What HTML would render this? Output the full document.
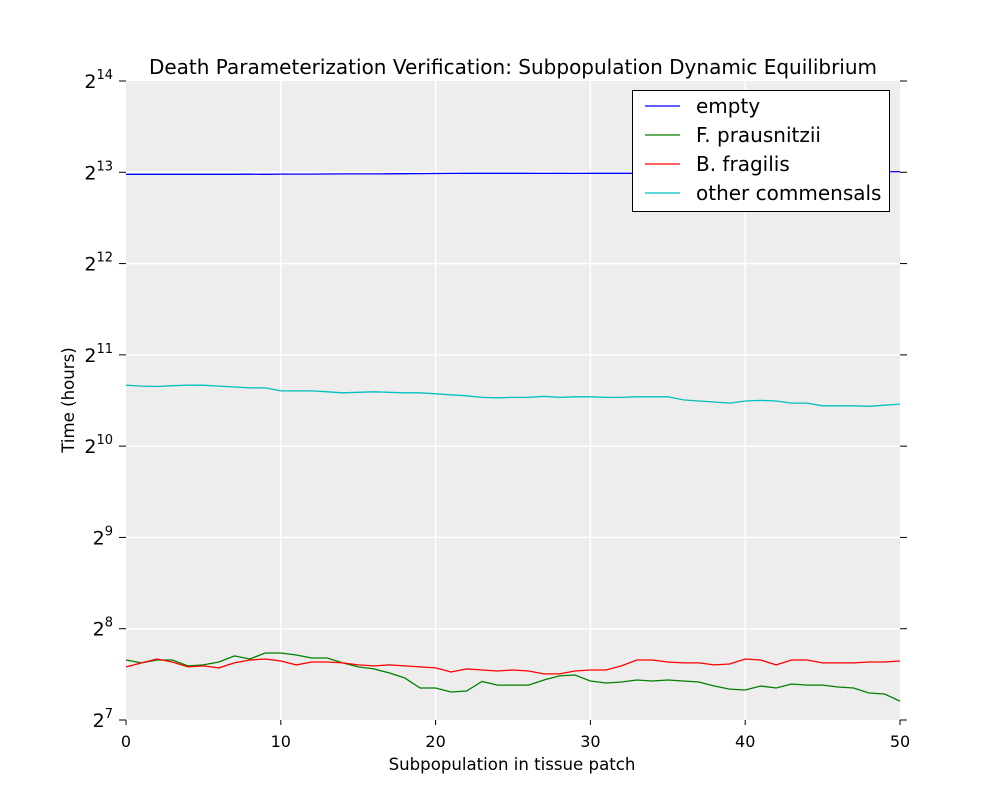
<!DOCTYPE html>
<html><head><meta charset="utf-8"><style>
body{margin:0;background:#fff;}
svg text{font-family:"DejaVu Sans","Liberation Sans",sans-serif;}
</style></head><body>
<svg id="chart" width="1000" height="800" xmlns="http://www.w3.org/2000/svg">
<rect width="1000" height="800" fill="#fff"/>
<rect x="126" y="81" width="774" height="639" fill="#ededed"/>
<g id="grid"></g>
<g id="series"></g>
<g id="axes"></g>
<text x="513" y="74" font-size="20" text-anchor="middle">Death Parameterization Verification: Subpopulation Dynamic Equilibrium</text>
<text x="512" y="770" font-size="16.6" text-anchor="middle">Subpopulation in tissue patch</text>
<text x="74" y="400" font-size="16.6" text-anchor="middle" transform="rotate(-90 74 400)">Time (hours)</text>
<g>
<rect x="632.5" y="90.5" width="257" height="121" fill="#fff" stroke="#000" stroke-width="1"/>
<g><line x1="645" y1="106" x2="680" y2="106" stroke="#0000ff" stroke-width="1.3"/><text x="696" y="113" font-size="20">empty</text></g>
<g><line x1="645" y1="135" x2="680" y2="135" stroke="#008000" stroke-width="1.3"/><text x="696" y="142" font-size="20">F. prausnitzii</text></g>
<g><line x1="645" y1="164" x2="680" y2="164" stroke="#ff0000" stroke-width="1.3"/><text x="696" y="171" font-size="20">B. fragilis</text></g>
<g><line x1="645" y1="193" x2="680" y2="193" stroke="#00bfbf" stroke-width="1.3"/><text x="696" y="200" font-size="20">other commensals</text></g>
</g>
</svg>
<script>
const xTicks=[0,10,20,30,40,50];
const yExps=[7,8,9,10,11,12,13,14];
const empty=[8068,8068,8068,8065,8068,8068,8070,8070,8072,8070,8080,8082,8082,8085,8092,8095,8095,8100,8105,8110,8115,8125,8128,8130,8132,8130,8130,8125,8128,8125,8130,8130,8128,8130,8135,8140,8145,8150,8155,8160,8165,8170,8175,8180,8185,8190,8195,8200,8210,8220,8235];
const fPrausnitzii=[201.9,197.4,201.9,201.9,193.0,194.5,198.9,208.2,203.4,212.9,212.9,209.7,205.0,205.0,197.4,191.6,188.7,183.0,176.2,163.2,163.2,158.3,159.5,171.5,166.9,166.9,166.9,173.4,178.9,180.2,172.1,169.5,170.8,173.4,172.1,173.4,172.1,170.8,165.7,161.9,160.7,165.7,163.2,168.2,166.9,166.9,164.4,163.2,157.1,155.9,147.8];
const bFragilis=[191.6,197.4,203.4,198.9,191.6,193.0,190.1,197.4,201.9,203.4,200.4,194.5,198.9,198.9,197.4,194.5,193.0,194.5,193.0,191.6,190.1,184.3,188.7,187.1,185.7,187.1,185.7,181.6,181.6,185.7,187.1,187.1,193.0,201.9,201.9,198.9,197.4,197.4,194.5,195.9,203.4,201.9,194.5,201.9,201.9,197.4,197.4,197.4,198.9,198.9,200.4];
const otherCommensals=[1627,1616,1610,1621,1627,1627,1616,1604,1593,1593,1558,1558,1558,1547,1535,1541,1547,1541,1535,1535,1524,1512,1501,1483,1478,1483,1483,1495,1483,1489,1489,1483,1483,1489,1489,1489,1455,1443,1432,1420,1443,1449,1443,1420,1420,1391,1391,1391,1386,1397,1409];
const X0=126,X1=900,Y0=720,Y1=81;
const xs=v=>X0+(v-0)/50*(X1-X0);
const ys=v=>Y0-(Math.log2(v)-7)/7*(Y0-Y1);
const NS="http://www.w3.org/2000/svg";
function mk(tag,attrs,parent){const e=document.createElementNS(NS,tag);for(const k in attrs)e.setAttribute(k,attrs[k]);parent.appendChild(e);return e;}
const grid=document.getElementById('grid'),axes=document.getElementById('axes'),ser=document.getElementById('series');
xTicks.forEach(t=>{
  const x=xs(t);
  if(t>0&&t<50){const g=mk('line',{x1:x,x2:x,y1:Y1,y2:Y0,stroke:'#fff','stroke-width':1.5},grid);
  
  }
  const tk=mk('line',{x1:x,x2:x,y1:Y0,y2:Y0+5,stroke:'#000'},axes);
  
  
  const tl=mk('text',{x:x,y:Y0+27,'font-size':16,'text-anchor':'middle'},axes);
  tl.textContent=t;
  
  
});
yExps.forEach(e=>{
  const y=ys(Math.pow(2,e));
  if(e>7&&e<14){const g=mk('line',{x1:X0,x2:X1,y1:y,y2:y,stroke:'#fff','stroke-width':1.5},grid);
  
  }
  const tk=mk('line',{x1:X0-7,x2:X0,y1:y,y2:y,stroke:'#000'},axes);
  
  
  const tk2=mk('line',{x1:X1,x2:X1+7,y1:y,y2:y,stroke:'#000'},axes);
  
  
  const tl=mk('text',{x:X0-13,y:y+7,'font-size':19,'text-anchor':'end'},axes);
  
  
  const b=mk('tspan',{},tl);b.textContent='2';
  const s=mk('tspan',{dy:-9,'font-size':13},tl);s.textContent=String(e);
});
function line(data,color,name){
  const d=data.map((v,i)=>(i?'L':'M')+xs(i).toFixed(1)+','+ys(v).toFixed(1)).join('');
  const p=mk('path',{d:d,fill:'none',stroke:color,'stroke-width':1.3},ser);
  
  
}
line(empty,'#0000ff','line-empty');
line(otherCommensals,'#00bfbf','line-other-commensals');
line(fPrausnitzii,'#008000','line-f-prausnitzii');
line(bFragilis,'#ff0000','line-b-fragilis');
</script>
</body></html>
